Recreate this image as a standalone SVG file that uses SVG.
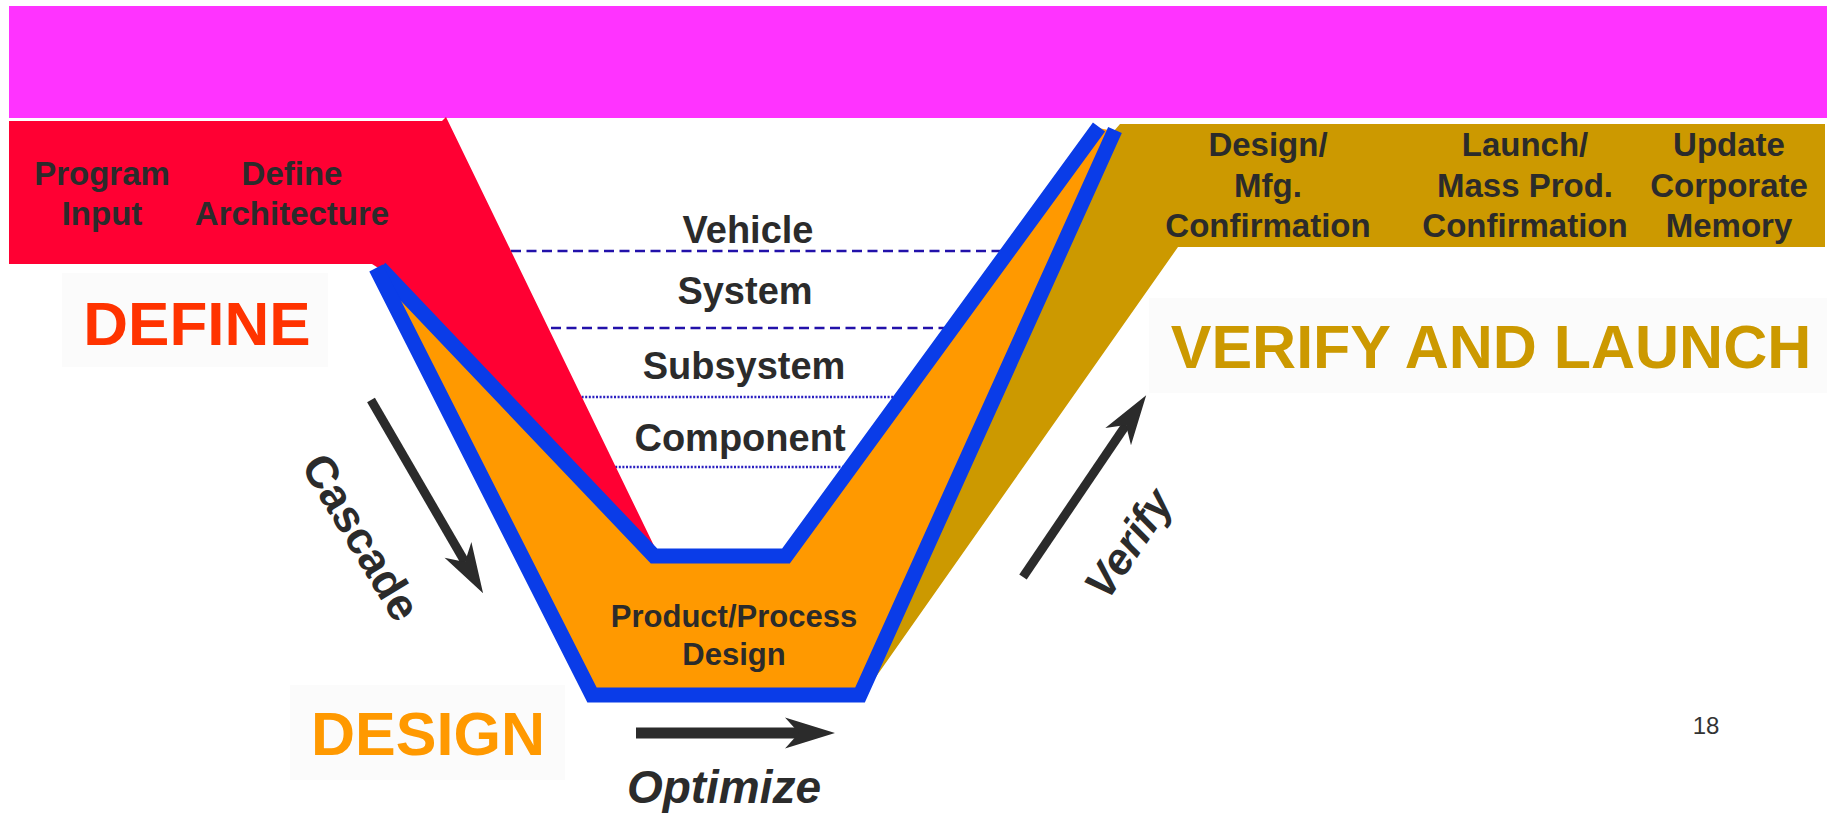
<svg xmlns="http://www.w3.org/2000/svg" width="1827" height="814" viewBox="0 0 1827 814">
<style>
text{font-family:"Liberation Sans",Arial,sans-serif;font-weight:bold;fill:#2b2b2b;text-anchor:middle}
.hdr{font-size:33px}
.lvl{font-size:38px}
.big{font-size:61px}
.it{font-style:italic}
.dash{stroke:#2211aa;stroke-width:2.6;fill:none;stroke-dasharray:10 5.5}
.dot{stroke:#2a1fc0;stroke-width:2.6;fill:none;stroke-dasharray:2 1.6}
.blue{stroke:#0a3ce8;stroke-width:15;fill:none;stroke-linejoin:miter;stroke-linecap:butt}
.arrow{stroke:#2b2b2b;fill:none}
.halo{fill:#fbfbfb}
</style>
<defs>
<marker id="head" viewBox="-52 -17 54 34" refX="-36" refY="0" markerWidth="54" markerHeight="34" markerUnits="userSpaceOnUse" orient="auto">
<path d="M0,0 L-50,-15.5 L-36,0 L-50,15.5 Z" fill="#2b2b2b"/>
</marker>
</defs>
<rect width="1827" height="814" fill="#ffffff"/>
<rect id="banner" x="9" y="6" width="1818" height="112" fill="#ff33ff"/>
<g id="level-lines">
<line class="dash" x1="480" y1="251" x2="1040" y2="251"/>
<line class="dash" x1="520" y1="328" x2="960" y2="328"/>
<line class="dot" x1="560" y1="397" x2="910" y2="397"/>
<line class="dot" x1="590" y1="467" x2="860" y2="467"/>
</g>
<g id="design-v">
<polygon points="378,270 592,695 860,695 1114,131 1098,128 786,556 654,556" fill="#ff9900"/>
</g>
<g id="define-phase">
<polygon points="9,121 442,121 446,117 659,556 654,556 380,269 372,264 9,264" fill="#ff0033"/>
<text class="hdr" x="102" y="185">Program</text>
<text class="hdr" x="102" y="225">Input</text>
<text class="hdr" x="292" y="185">Define</text>
<text class="hdr" x="292" y="225">Architecture</text>
</g>
<g id="verify-phase">
<polygon points="1120,124 1825,124 1825,247 1178,247 866,691 858,695 1114,131" fill="#cc9900"/>
<text class="hdr" x="1268" y="156">Design/</text>
<text class="hdr" x="1268" y="197">Mfg.</text>
<text class="hdr" x="1268" y="237">Confirmation</text>
<text class="hdr" x="1525" y="156">Launch/</text>
<text class="hdr" x="1525" y="197">Mass Prod.</text>
<text class="hdr" x="1525" y="237">Confirmation</text>
<text class="hdr" x="1729" y="156">Update</text>
<text class="hdr" x="1729" y="197">Corporate</text>
<text class="hdr" x="1729" y="237">Memory</text>
</g>
<g id="v-outline">
<polyline class="blue" points="380,268 654,556 786,556 1099,127"/>
<polyline class="blue" points="376,268 592,695 860,695 1115,130"/>
</g>
<g id="levels">
<text class="lvl" x="748" y="243">Vehicle</text>
<text class="lvl" x="745" y="304">System</text>
<text class="lvl" x="744" y="379">Subsystem</text>
<text class="lvl" x="740" y="451">Component</text>
</g>
<g id="product-process">
<text style="font-size:31px" x="734" y="627">Product/Process</text>
<text style="font-size:31px" x="734" y="665">Design</text>
</g>
<g id="define-label">
<rect class="halo" x="62" y="273" width="266" height="94"/>
<text class="big" x="197" y="345" style="font-size:62px;fill:#ff3300">DEFINE</text>
</g>
<g id="design-label">
<rect class="halo" x="290" y="685" width="275" height="95"/>
<text class="big" x="428" y="755" style="fill:#ff9900">DESIGN</text>
</g>
<g id="verify-label">
<rect class="halo" x="1149" y="298" width="678" height="95"/>
<text class="big" x="1491" y="368" style="fill:#cc9900">VERIFY AND LAUNCH</text>
</g>
<g id="connectors">
<line class="arrow" stroke-width="9" x1="371" y1="400" x2="465" y2="562" marker-end="url(#head)"/>
<line class="arrow" stroke-width="11" x1="636" y1="733" x2="799" y2="733" marker-end="url(#head)"/>
<line class="arrow" stroke-width="9" x1="1023" y1="577" x2="1126" y2="425" marker-end="url(#head)"/>
</g>
<g id="arrow-labels">
<text style="font-size:45px" transform="translate(348,545) rotate(59)">Cascade</text>
<text class="it" style="font-size:46px" x="724" y="803">Optimize</text>
<text class="it" style="font-size:44px" transform="translate(1141,552) rotate(-56)">Verify</text>
</g>
<text id="page-number" x="1706" y="734" style="font-size:24px;font-weight:normal;fill:#333333">18</text>
</svg>
